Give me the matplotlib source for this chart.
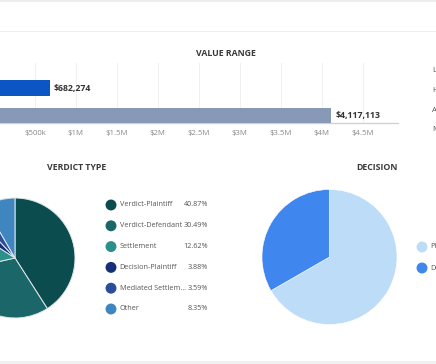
import matplotlib
matplotlib.use('Agg')
import matplotlib.pyplot as plt
from matplotlib.patches import Rectangle

plt.rcParams['font.family'] = ['Open Sans', 'DejaVu Sans']

# value range bars (bottom to top)
range_labels = ['Max', 'High']
range_values = [4117113, 682274]
range_colors = ['#8799b6', '#0b55c4']
range_legend = ['Low', 'High', 'Average', 'Median']
tick_values = [500000, 1000000, 1500000, 2000000, 2500000, 3000000, 3500000, 4000000, 4500000]
tick_labels = ['$500k', '$1M', '$1.5M', '$2M', '$2.5M', '$3M', '$3.5M', '$4M', '$4.5M']

# verdict type pie
verdict_labels = ['Verdict-Plaintiff', 'Verdict-Defendant', 'Settlement',
                  'Decision-Plaintiff', 'Mediated Settlem...', 'Other']
verdict_pcts = [40.87, 30.49, 12.62, 3.88, 3.59, 8.35]
verdict_colors = ['#0b4d4f', '#1b6669', '#2a9089', '#172f78', '#2c4d9c', '#3f86c0']

# decision pie
decision_labels = ['Plaintiff', 'Defendant']
decision_pcts = [66.7, 33.3]
decision_colors = ['#bddcf8', '#3f86ee']

W, H = 436, 364
fig = plt.figure(figsize=(W / 100, H / 100), dpi=100)


def box(left, top, width, height):
    return [left / W, 1 - (top + height) / H, width / W, height / H]


# overlay in pixel coordinates for lines, titles and legends
over = fig.add_axes([0, 0, 1, 1], zorder=5)
over.set_xlim(0, W)
over.set_ylim(H, 0)
over.axis('off')
over.add_patch(Rectangle((0, 0), W, 1.5, color='#ececec', lw=0))
over.add_patch(Rectangle((0, 30.5), W, 1.2, color='#efefef', lw=0))
over.add_patch(Rectangle((0, 360.5), W, 4, color='#f0f0f0', lw=0))

title_kw = dict(fontsize=6.3, fontweight='bold', color='#3a3a3a', ha='center', va='center')
over.text(226, 54, 'VALUE RANGE', **title_kw)
over.text(77, 167, 'VERDICT TYPE', **title_kw)
over.text(377, 167, 'DECISION', **title_kw)

# bar chart
axb = fig.add_axes(box(-6, 63, 404, 60))
ypos = list(range(len(range_values)))
axb.barh(ypos, range_values, height=0.55, color=range_colors, zorder=3)
for y, v in zip(ypos, range_values):
    axb.text(v + 50000, y, '${:,}'.format(v), fontsize=6.3, fontweight='bold',
             color='#333333', va='center', ha='left', zorder=4)
axb.set_xlim(0, 4.93e6)
axb.set_ylim(-0.27, 1.91)
axb.set_xticks(tick_values)
axb.set_xticklabels(tick_labels, fontsize=5.6, color='#8a8a8a')
axb.set_yticks([])
axb.tick_params(axis='x', length=0, pad=5)
axb.grid(axis='x', color='#f0f0f0', lw=0.7, zorder=0)
for s in ['top', 'left', 'right']:
    axb.spines[s].set_visible(False)
axb.spines['bottom'].set_color('#cfcfcf')
axb.spines['bottom'].set_linewidth(0.9)

for i, lab in enumerate(range_legend):
    over.text(432, 71 + i * 19.5, lab, fontsize=5.6, color='#555555', va='center', ha='left')

# verdict pie
cx, cy, r = 15, 258, 60
ax1 = fig.add_axes(box(cx - r, cy - r, 2 * r, 2 * r))
ax1.pie(verdict_pcts, colors=verdict_colors, startangle=90, counterclock=False,
        wedgeprops=dict(edgecolor='#dfe7ea', linewidth=0.7))
ax1.set_xlim(-1, 1)
ax1.set_ylim(-1, 1)
ax1.set_aspect('equal')

for i, (lab, p, c) in enumerate(zip(verdict_labels, verdict_pcts, verdict_colors)):
    yy = 205 + i * 20.8
    over.scatter([111], [yy], s=62, color=c, edgecolors='none')
    over.text(119.5, yy, lab, fontsize=5.2, color='#555555', va='center', ha='left')
    over.text(208, yy, '{:.2f}%'.format(p), fontsize=5.2, color='#555555', va='center', ha='right')

# decision pie
cx, cy, r = 329.5, 257, 67.5
ax2 = fig.add_axes(box(cx - r, cy - r, 2 * r, 2 * r))
ax2.pie(decision_pcts, colors=decision_colors, startangle=90, counterclock=False,
        wedgeprops=dict(edgecolor='white', linewidth=0.4))
ax2.set_xlim(-1, 1)
ax2.set_ylim(-1, 1)
ax2.set_aspect('equal')

for i, (lab, c) in enumerate(zip(decision_labels, decision_colors)):
    yy = 247 + i * 21
    over.scatter([422], [yy], s=62, color=c, edgecolors='none')
    over.text(430, yy, lab, fontsize=5.2, color='#555555', va='center', ha='left')

fig.savefig('out.png', dpi=100)
